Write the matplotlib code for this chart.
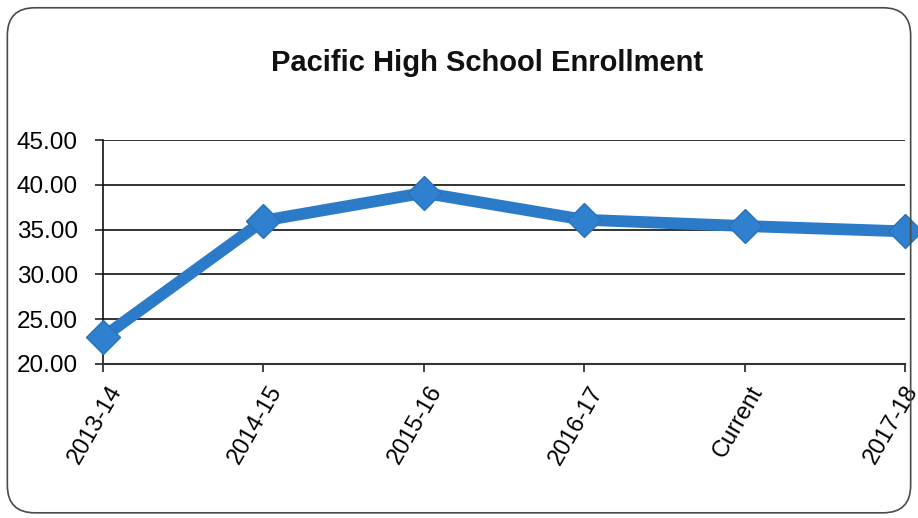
import matplotlib
matplotlib.use("Agg")
import matplotlib.pyplot as plt
from matplotlib.patches import FancyBboxPatch
from matplotlib.transforms import ScaledTranslation

years = ['2013-14', '2014-15', '2015-16', '2016-17', 'Current', '2017-18']
enrollment = [23.0, 36.0, 39.1, 36.1, 35.4, 34.8]
y_ticks = [20, 25, 30, 35, 40, 45]

plt.rcParams['font.family'] = ['Liberation Sans', 'DejaVu Sans']

fig = plt.figure(figsize=(9.18, 5.18), dpi=100)
fig.patch.set_facecolor('white')

# rounded frame around the whole chart
frame = FancyBboxPatch((0.008, 0.01), 0.984, 0.975, boxstyle='round,pad=0,rounding_size=0.03',
                       transform=fig.transFigure, fill=False, edgecolor='#4a4a4a', linewidth=1.2,
                       mutation_aspect=918 / 518)
fig.patches.append(frame)

ax = fig.add_axes([0.1122, 0.2973, 0.8736, 0.4324])
x = list(range(len(years)))
ax.plot(x, enrollment, color='#2b7bc9', linewidth=8.5, marker='D', markersize=17,
        markerfacecolor='#2f80cf', markeredgecolor='#2a72b8', markeredgewidth=1, zorder=3,
        solid_joinstyle='round', clip_on=False)

ax.set_xlim(0, len(years) - 1)
ax.set_ylim(20, 45)
ax.set_yticks(y_ticks)
ax.set_yticklabels([f'{v:.2f}' for v in y_ticks], fontsize=17.5)
ax.set_xticks(x)
ax.set_xticklabels(years, fontsize=17, rotation=60, ha='right', rotation_mode='anchor')
ax.tick_params(axis='both', direction='out', length=6, width=1.2, color='#222222', pad=4)
ax.tick_params(axis='y', pad=12)

# nudge rotated labels so their top end sits just right of the tick;
# the last one stays put so it is not cut by the figure edge
labels = ax.get_xticklabels()
for i, lbl in enumerate(labels):
    dx = 4 if i < len(labels) - 1 else -1
    lbl.set_transform(lbl.get_transform() + ScaledTranslation(dx / 100, -4 / 100, fig.dpi_scale_trans))

ax.grid(axis='y', color='#111111', linewidth=1.2, zorder=0)
ax.set_axisbelow(True)
for side in ('top', 'right'):
    ax.spines[side].set_visible(False)
ax.spines['left'].set_color('#111111')
ax.spines['left'].set_linewidth(1.2)
ax.spines['bottom'].set_color('#333333')
ax.spines['bottom'].set_linewidth(1.5)

fig.text(0.531, 0.878, 'Pacific High School Enrollment', ha='center', va='center',
         fontsize=21, fontweight='bold', color='#111111')

fig.savefig('out.png', dpi=100, facecolor='white')
